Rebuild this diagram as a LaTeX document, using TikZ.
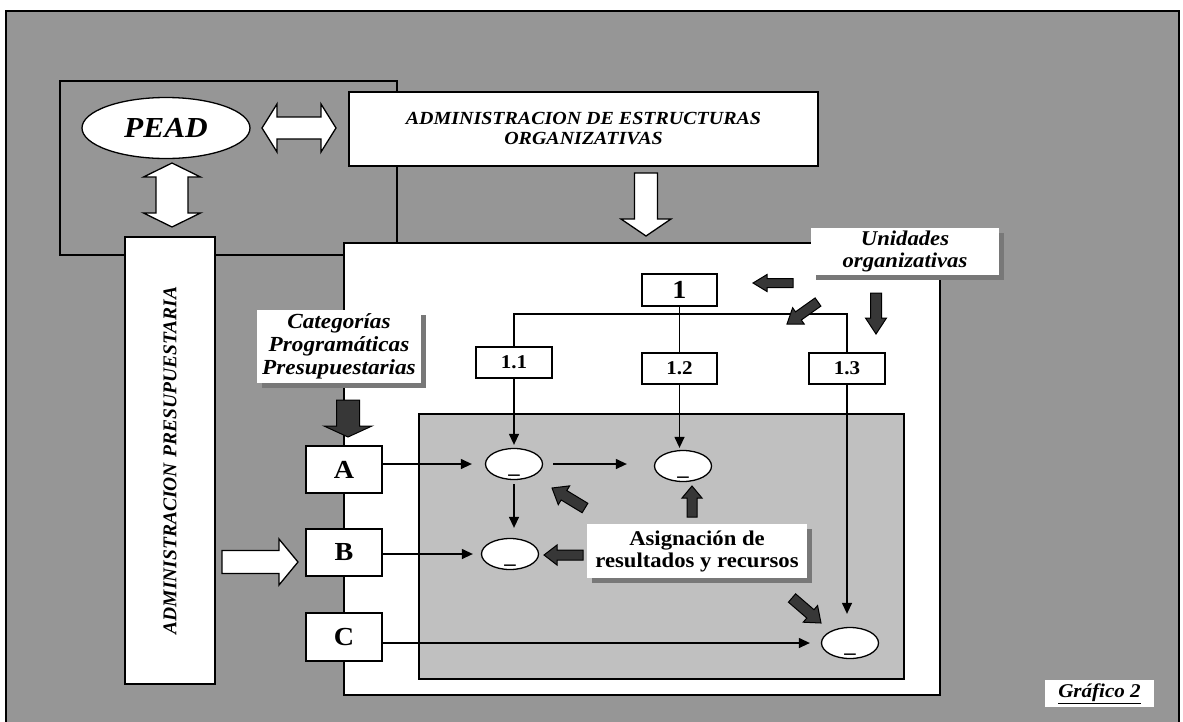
\documentclass[tikz,border=0pt]{standalone}
\usepackage{fontspec}
\usepackage{graphicx}
\usetikzlibrary{shapes.geometric,arrows.meta,shadows,calc}
\newfontfamily\tnr{Liberation Serif}[FakeStretch=1.08]
\newfontfamily\tnrn{Liberation Serif}
\definecolor{bgc}{RGB}{150,150,150}
\definecolor{lgc}{RGB}{192,192,192}
\definecolor{darkc}{RGB}{55,55,55}
\definecolor{shadowc}{RGB}{120,120,120}
% single block arrow: style, x1,y1 (tail), x2,y2 (tip), shaft half width, head half width, head length
\newcommand\barrow[8]{%
 \pgfmathsetmacro\BAx{#2}\pgfmathsetmacro\BAy{#3}%
 \pgfmathsetmacro\BAdx{#4-#2}\pgfmathsetmacro\BAdy{#5-#3}%
 \pgfmathsetmacro\BAL{veclen(\BAdx,\BAdy)}%
 \pgfmathsetmacro\BAux{\BAdx/\BAL}\pgfmathsetmacro\BAuy{\BAdy/\BAL}%
 \pgfmathsetmacro\BAnx{-\BAuy}\pgfmathsetmacro\BAny{\BAux}%
 \pgfmathsetmacro\BAbx{\BAx+(\BAL-#8)*\BAux}\pgfmathsetmacro\BAby{\BAy+(\BAL-#8)*\BAuy}%
 \draw[#1] ({\BAx+#6*\BAnx},{\BAy+#6*\BAny}) -- ({\BAbx+#6*\BAnx},{\BAby+#6*\BAny})
  -- ({\BAbx+#7*\BAnx},{\BAby+#7*\BAny}) -- (#4,#5)
  -- ({\BAbx-#7*\BAnx},{\BAby-#7*\BAny}) -- ({\BAbx-#6*\BAnx},{\BAby-#6*\BAny})
  -- ({\BAx-#6*\BAnx},{\BAy-#6*\BAny}) -- cycle;}
% double block arrow
\newcommand\dbarrow[8]{%
 \pgfmathsetmacro\BAx{#2}\pgfmathsetmacro\BAy{#3}%
 \pgfmathsetmacro\BAdx{#4-#2}\pgfmathsetmacro\BAdy{#5-#3}%
 \pgfmathsetmacro\BAL{veclen(\BAdx,\BAdy)}%
 \pgfmathsetmacro\BAux{\BAdx/\BAL}\pgfmathsetmacro\BAuy{\BAdy/\BAL}%
 \pgfmathsetmacro\BAnx{-\BAuy}\pgfmathsetmacro\BAny{\BAux}%
 \pgfmathsetmacro\BAbx{\BAx+(\BAL-#8)*\BAux}\pgfmathsetmacro\BAby{\BAy+(\BAL-#8)*\BAuy}%
 \pgfmathsetmacro\BAcx{\BAx+#8*\BAux}\pgfmathsetmacro\BAcy{\BAy+#8*\BAuy}%
 \draw[#1] (#2,#3) -- ({\BAcx+#7*\BAnx},{\BAcy+#7*\BAny}) -- ({\BAcx+#6*\BAnx},{\BAcy+#6*\BAny})
  -- ({\BAbx+#6*\BAnx},{\BAby+#6*\BAny}) -- ({\BAbx+#7*\BAnx},{\BAby+#7*\BAny}) -- (#4,#5)
  -- ({\BAbx-#7*\BAnx},{\BAby-#7*\BAny}) -- ({\BAbx-#6*\BAnx},{\BAby-#6*\BAny})
  -- ({\BAcx-#6*\BAnx},{\BAcy-#6*\BAny}) -- ({\BAcx-#7*\BAnx},{\BAcy-#7*\BAny}) -- cycle;}
\begin{document}
\begin{tikzpicture}[x=1pt,y=-1pt,
  frame/.style={draw=black,line width=1.3pt},
  wbox/.style={draw=black,fill=white,line width=1.3pt,inner sep=0pt,align=center},
  shbox/.style={wbox,draw=none,drop shadow={shadow xshift=5pt,shadow yshift=-5pt,fill=shadowc,opacity=1}},
  oval/.style={ellipse,draw=black,fill=white,line width=1.3pt,inner sep=0pt,minimum width=57pt,minimum height=31pt,
     text height=18pt,text depth=0pt,font=\tnr\bfseries\fontsize{21}{21}\selectfont},
  conn/.style={line width=1.3pt,-{Triangle[length=11pt,width=10pt]}},
  tline/.style={line width=1.3pt},
  harrow/.style={draw=black,fill=white,line width=1.3pt},
  darrow/.style={draw=black,fill=darkc,line width=1pt}]
\useasboundingbox (0,0) rectangle (1183,721);
\fill[white] (0,0) rectangle (1183,721);
% outer frame
\filldraw[frame,fill=bgc] (6,11) rectangle (1179,735);
% PEAD panel
\draw[frame] (60,81) rectangle (397,255);
% white working area
\filldraw[frame,fill=white] (344,243) rectangle (940,695);
% inner gray area
\filldraw[frame,fill=lgc] (419,414) rectangle (904,679);

% nodes
\node[ellipse,draw=black,fill=white,line width=1.3pt,minimum width=168pt,minimum height=61pt,inner sep=0pt,
  font=\tnr\bfseries\itshape\fontsize{29}{30}\selectfont] (pead) at (166,128) {PEAD};
\node[wbox,minimum width=469pt,minimum height=74pt,font=\tnr\bfseries\itshape\fontsize{18.5}{20}\selectfont] (aee) at (583.5,129)
  {ADMINISTRACION DE ESTRUCTURAS\\ORGANIZATIVAS};
\node[wbox,minimum width=90pt,minimum height=447pt] (apr) at (170,460.5)
  {\rotatebox{90}{\tnrn\bfseries\itshape\fontsize{19.5}{20}\selectfont ADMINISTRACION\hspace{6pt}PRESUPUESTARIA}};
\node[shbox,minimum width=188pt,minimum height=47pt,font=\tnr\bfseries\itshape\fontsize{21}{22}\selectfont] (uni) at (905,251.5)
  {Unidades\\organizativas};
\node[wbox,minimum width=75pt,minimum height=32pt,font=\tnr\bfseries\fontsize{26}{26}\selectfont] (n1) at (679.5,290) {1};
\node[wbox,minimum width=76pt,minimum height=31pt,font=\tnr\bfseries\fontsize{19.5}{19.5}\selectfont] (n11) at (514,362.5) {1.1};
\node[wbox,minimum width=75pt,minimum height=31pt,font=\tnr\bfseries\fontsize{19.5}{19.5}\selectfont] (n12) at (679.5,368.5) {1.2};
\node[wbox,minimum width=76pt,minimum height=31pt,font=\tnr\bfseries\fontsize{19.5}{19.5}\selectfont] (n13) at (847,368.5) {1.3};
\node[shbox,minimum width=164pt,minimum height=73pt,font=\tnr\bfseries\itshape\fontsize{21.5}{23}\selectfont] (cat) at (339,346.5)
  {Categorías\\Programáticas\\Presupuestarias};
\node[wbox,minimum width=76pt,minimum height=47pt,font=\tnr\bfseries\fontsize{26}{26}\selectfont] (A) at (344,469.5) {A};
\node[wbox,minimum width=76pt,minimum height=47pt,font=\tnr\bfseries\fontsize{26}{26}\selectfont] (B) at (344,552.5) {B};
\node[wbox,minimum width=76pt,minimum height=48pt,font=\tnr\bfseries\fontsize{26}{26}\selectfont] (C) at (344,637) {C};
\node[shbox,minimum width=220pt,minimum height=54pt,font=\tnr\bfseries\fontsize{21}{22}\selectfont] (asig) at (697,551)
  {Asignación de\\resultados y recursos};
\node[fill=white,minimum width=109pt,minimum height=27pt,inner sep=0pt,font=\tnr\bfseries\itshape\fontsize{19.5}{19.5}\selectfont] (graf) at (1099.5,693.5)
  {\underline{Gráfico 2}};
\node[oval] (E1) at (514,464) {\_};
\node[oval] (E2) at (683,466) {\_};
\node[oval] (E3) at (510,554) {\_};
\node[oval] (E4) at (850,643) {\_};

% tree lines
\coordinate (bar) at (600,314);
\draw[tline] (n1.south) -- (n12.north);
\draw[tline] (n11.north) -- (n11.north |- bar) -- (n13.north |- bar) -- (n13.north);

% connectors
\draw[conn,shorten >=3pt] (n11.south) -- (n11.south |- E1.north);
\draw[conn,shorten >=2pt] (n12.south) -- (n12.south |- E2.north);
\draw[conn,shorten >=13pt] (n13.south) -- (n13.south |- E4.north);
\draw[conn,shorten >=13pt] (A.east |- E1.west) -- (E1.west);
\draw[conn,shorten <=10pt,shorten >=27pt] (E1.east) -- (E1.east -| E2.west);
\draw[conn,shorten <=4pt,shorten >=10pt] (E1.south) -- (E1.south |- E3.north);
\draw[conn,shorten >=8pt] (B.east |- E3.west) -- (E3.west);
\draw[conn,shorten >=11pt] (C.east |- E4.west) -- (E4.west);

% hollow block arrows
\dbarrow{harrow}{262}{128}{336}{128}{11}{24}{15}
\dbarrow{harrow}{172}{163}{172}{227}{16}{28.5}{14}
\barrow{harrow}{646}{173}{646}{236}{11.5}{25}{17}
\barrow{harrow}{222}{562}{298}{562}{11.5}{23}{19}
% dark block arrows
\barrow{darrow}{348}{400}{348}{437}{11.5}{24}{11}
\barrow{darrow}{793}{283}{753}{283}{4.5}{8.5}{14}
\barrow{darrow}{818}{302}{787}{324}{5}{10}{14}
\barrow{darrow}{876}{293}{876}{334}{5.5}{10.5}{16}
\barrow{darrow}{585}{508}{552}{488}{5.5}{11}{14}
\barrow{darrow}{692}{517}{692}{486}{5}{10}{12}
\barrow{darrow}{583}{555}{544}{555}{5}{10}{13}
\barrow{darrow}{792}{598}{821}{623}{5.5}{11}{14}
\end{tikzpicture}
\end{document}
